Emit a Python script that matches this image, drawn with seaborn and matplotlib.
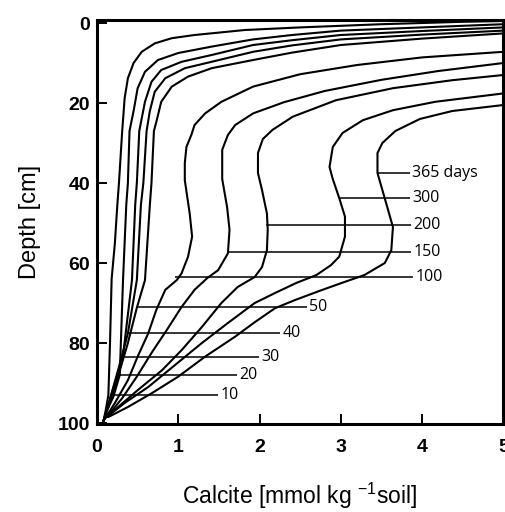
import matplotlib
matplotlib.use("Agg")
import matplotlib.pyplot as plt
import seaborn as sns
import pandas as pd

# Calcite profiles (mmol kg-1 soil) against depth (cm), one list pair per time step
days = [10, 20, 30, 40, 50, 100, 150, 200, 300, 365]

calcite_10 = [5.0, 4.5, 3.5, 3.0, 2.5, 1.82, 1.2, 0.92, 0.71, 0.55, 0.45, 0.38, 0.34, 0.31, 0.27, 0.25, 0.22, 0.18, 0.16, 0.14, 0.11, 0.08]
depth_10 = [-0.5, -0.3, 0.3, 0.7, 1.1, 1.75, 3.0, 3.8, 5.1, 7.2, 10.0, 13.8, 18.8, 27.0, 40.0, 45.5, 55.0, 64.0, 80.0, 93.0, 96.5, 99.5]

calcite_20 = [5.0, 4.0, 3.0, 2.4, 1.92, 1.41, 1.0, 0.75, 0.59, 0.50, 0.45, 0.40, 0.38, 0.36, 0.32, 0.28, 0.20, 0.12, 0.08]
depth_20 = [0.3, 1.1, 1.9, 3.0, 4.1, 5.9, 7.5, 9.25, 12.2, 16.3, 22.0, 27.0, 40.0, 45.5, 64.3, 88.0, 93.5, 97.0, 99.5]

calcite_30 = [5.0, 4.0, 3.0, 2.4, 1.92, 1.41, 1.04, 0.79, 0.67, 0.59, 0.52, 0.49, 0.47, 0.43, 0.32, 0.22, 0.13, 0.08]
depth_30 = [1.1, 2.0, 3.0, 4.3, 5.5, 8.0, 9.7, 11.75, 14.7, 19.7, 27.0, 40.0, 45.5, 64.3, 83.2, 90.0, 96.0, 99.5]

calcite_40 = [5.0, 4.0, 3.0, 2.4, 1.92, 1.41, 1.08, 0.84, 0.71, 0.65, 0.61, 0.57, 0.54, 0.49, 0.38, 0.27, 0.16, 0.08]
depth_40 = [1.9, 2.9, 4.1, 5.6, 7.2, 9.7, 11.3, 13.8, 17.2, 22.0, 27.0, 40.0, 45.5, 64.3, 77.6, 86.0, 94.0, 99.5]

calcite_50 = [5.0, 4.0, 3.0, 2.4, 1.92, 1.41, 1.12, 0.92, 0.79, 0.73, 0.70, 0.67, 0.65, 0.59, 0.49, 0.38, 0.25, 0.14, 0.08]
depth_50 = [2.6, 3.9, 5.5, 7.4, 9.25, 11.3, 13.4, 15.9, 19.7, 24.7, 27.0, 40.0, 45.5, 64.3, 71.2, 80.0, 89.0, 96.0, 99.5]

calcite_100 = [5.0, 4.0, 3.2, 2.5, 1.92, 1.53, 1.33, 1.20, 1.16, 1.10, 1.08, 1.08, 1.14, 1.17, 1.12, 1.04, 0.98, 0.84, 0.73, 0.63, 0.50, 0.38, 0.22, 0.08]
depth_100 = [7.2, 8.6, 10.5, 12.8, 15.9, 19.7, 22.6, 25.5, 28.0, 31.0, 35.0, 39.3, 47.6, 53.4, 58.4, 62.6, 64.3, 66.7, 71.7, 77.6, 83.4, 89.3, 95.0, 99.5]

calcite_150 = [5.0, 4.2, 3.5, 2.8, 2.3, 1.92, 1.7, 1.61, 1.54, 1.54, 1.60, 1.63, 1.61, 1.49, 1.36, 1.20, 1.04, 0.86, 0.67, 0.49, 0.31, 0.12]
depth_150 = [10.0, 12.0, 14.2, 17.0, 19.8, 22.6, 25.5, 28.0, 31.7, 39.0, 46.0, 51.7, 57.6, 61.8, 63.7, 66.7, 71.0, 76.7, 82.5, 88.4, 93.8, 98.5]

calcite_200 = [5.0, 4.37, 3.64, 2.94, 2.41, 2.16, 2.04, 1.98, 1.98, 2.03, 2.09, 2.10, 2.09, 2.03, 1.94, 1.73, 1.53, 1.29, 1.04, 0.80, 0.50, 0.26, 0.10]
depth_200 = [13.0, 14.3, 16.3, 19.3, 23.4, 26.7, 29.0, 32.5, 37.5, 41.8, 47.6, 51.7, 56.8, 61.0, 63.5, 66.0, 70.0, 76.0, 81.8, 86.8, 91.8, 96.0, 98.8]

calcite_300 = [5.0, 4.16, 3.64, 3.27, 3.02, 2.90, 2.86, 2.90, 2.98, 3.05, 3.05, 2.98, 2.88, 2.70, 2.45, 2.19, 1.94, 1.61, 1.29, 0.96, 0.63, 0.34, 0.12]
depth_300 = [17.6, 19.7, 21.8, 24.3, 27.5, 31.0, 36.0, 39.0, 43.8, 48.4, 53.4, 58.4, 60.5, 63.0, 65.0, 67.5, 70.0, 75.0, 80.0, 85.5, 91.0, 95.0, 98.5]

calcite_365 = [5.0, 4.37, 3.97, 3.67, 3.51, 3.45, 3.45, 3.57, 3.64, 3.62, 3.54, 3.29, 3.05, 2.76, 2.43, 2.19, 1.94, 1.70, 1.33, 1.00, 0.67, 0.38, 0.14]
depth_365 = [20.5, 22.0, 24.0, 27.0, 30.0, 32.5, 37.5, 46.0, 51.0, 56.8, 60.0, 63.0, 64.7, 66.8, 69.3, 71.3, 74.8, 78.4, 83.4, 88.4, 92.6, 96.0, 98.5]

# Curve labels: text, depth of the leader line, leader start (on its curve) and end
label_texts = ["365 days", "300", "200", "150", "100", "50", "40", "30", "20", "10"]
label_depths = [37.6, 43.8, 50.5, 57.2, 63.4, 71.1, 77.6, 83.4, 88.1, 93.0]
leader_starts = [3.45, 2.98, 2.08, 1.61, 0.96, 0.49, 0.38, 0.32, 0.28, 0.20]
leader_ends = [3.85, 3.85, 3.86, 3.86, 3.89, 2.58, 2.25, 1.99, 1.72, 1.49]

x_ticks = [0, 1, 2, 3, 4, 5]
y_ticks = [0, 20, 40, 60, 80, 100]

profiles = {
    10: (calcite_10, depth_10), 20: (calcite_20, depth_20), 30: (calcite_30, depth_30),
    40: (calcite_40, depth_40), 50: (calcite_50, depth_50), 100: (calcite_100, depth_100),
    150: (calcite_150, depth_150), 200: (calcite_200, depth_200),
    300: (calcite_300, depth_300), 365: (calcite_365, depth_365),
}
frames = []
for d in days:
    cx, dz = profiles[d]
    frames.append(pd.DataFrame({"day": d, "calcite": cx, "depth": dz, "step": range(len(cx))}))
df = pd.concat(frames, ignore_index=True)

sns.set_theme(style="ticks")
plt.rcParams["font.family"] = ["Liberation Sans", "DejaVu Sans"]
plt.rcParams["mathtext.fontset"] = "custom"
plt.rcParams["mathtext.rm"] = "Liberation Sans"
plt.rcParams["mathtext.it"] = "Liberation Sans"
plt.rcParams["text.color"] = "black"
plt.rcParams["axes.labelcolor"] = "black"
plt.rcParams["xtick.color"] = "black"
plt.rcParams["ytick.color"] = "black"

fig = plt.figure(figsize=(5.06, 5.12), dpi=100)
ax = fig.add_axes([97 / 506, 1 - 424 / 512, (503.5 - 97) / 506, (424 - 20) / 512])

sns.lineplot(data=df, x="calcite", y="depth", units="day", estimator=None, sort=False,
             color="black", lw=1.5, ax=ax, legend=False)

for txt, dep, xs, xe in zip(label_texts, label_depths, leader_starts, leader_ends):
    ax.plot([xs, xe], [dep, dep], color="black", lw=1.1, solid_capstyle="butt")
    ax.text(xe + 0.03, dep, txt, ha="left", va="center", fontsize=11.5,
            family=["Open Sans", "DejaVu Sans"], color="black")

ax.set_xlim(0, 5)
ax.set_ylim(100.25, -0.75)
ax.set_xticks(x_ticks)
ax.set_yticks(y_ticks)
ax.set_xticklabels([str(t) for t in x_ticks], fontsize=14, fontweight="bold")
ax.set_yticklabels([str(t) for t in y_ticks], fontsize=14, fontweight="bold")
ax.tick_params(direction="in", length=7, width=1.4, color="black", labelcolor="black")
ax.tick_params(axis="y", pad=5)
ax.tick_params(axis="x", pad=11)
for s in ax.spines.values():
    s.set_visible(True)
    s.set_linewidth(2.2)
    s.set_color("black")

ax.set_xlabel(r"Calcite [mmol kg $^{-1}$soil]", fontsize=16.5, labelpad=18, color="black")
ax.set_ylabel("Depth [cm]", fontsize=17, labelpad=12, color="black")

fig.savefig("out.png", dpi=100, facecolor="white")
